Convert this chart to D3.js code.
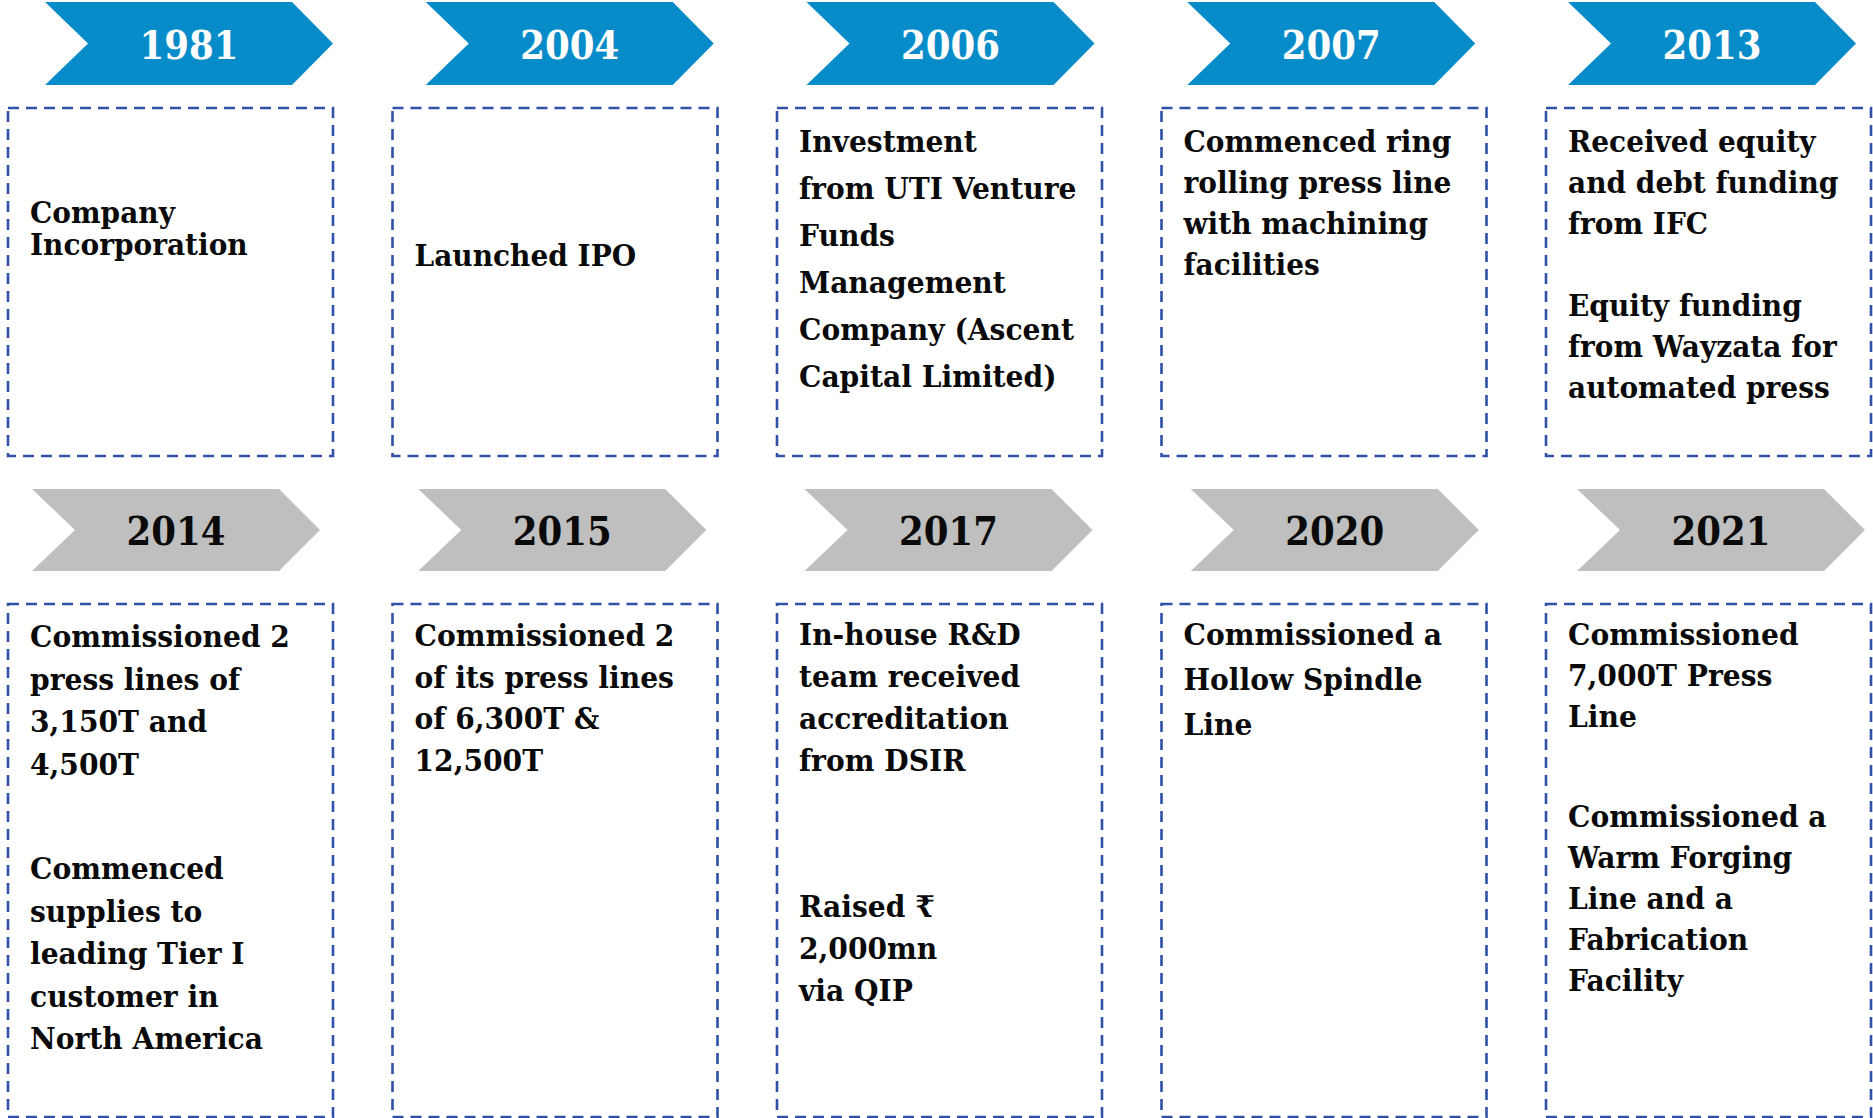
<!DOCTYPE html>
<html>
<head>
<meta charset="utf-8">
<script src="https://cdn.jsdelivr.net/npm/d3@7"></script>
<style>
  body { margin: 0; background: #fff; }
  svg { display: block; }
</style>
</head>
<body>
<div class="container"></div>
<script>
// milestones, top row (blue) and bottom row (grey)
var topYears = ["1981", "2004", "2006", "2007", "2013"];
var topEvents = [
  ["Company", "Incorporation"],
  ["Launched IPO"],
  ["Investment", "from UTI Venture", "Funds", "Management", "Company (Ascent", "Capital Limited)"],
  ["Commenced ring", "rolling press line", "with machining", "facilities"],
  ["Received equity", "and debt funding", "from IFC", "", "Equity funding", "from Wayzata for", "automated press"]
];
var bottomYears = ["2014", "2015", "2017", "2020", "2021"];
var bottomEvents = [
  ["Commissioned 2", "press lines of", "3,150T and", "4,500T", "", "Commenced", "supplies to", "leading Tier I", "customer in", "North America"],
  ["Commissioned 2", "of its press lines", "of 6,300T &", "12,500T"],
  ["In-house R&D", "team received", "accreditation", "from DSIR", "", "Raised ₹", "2,000mn", "via QIP"],
  ["Commissioned a", "Hollow Spindle", "Line"],
  ["Commissioned", "7,000T Press", "Line", "", "Commissioned a", "Warm Forging", "Line and a", "Fabrication", "Facility"]
];

const WIDTH = 1873;
const HEIGHT = 1118;
const FONT = "'DejaVu Serif', 'Noto Sans', serif";
const BLUE = "#078bc9";
const GREY = "#bfbfbf";
const DASH = "#2f52a6";

// text block layout per box (offsets from box top)
var topLayout = [
  {y0: 115, lh: 32, gap: 0, narrow: true},
  {y0: 158, lh: 0, gap: 0, narrow: true},
  {y0: 44, lh: 47, gap: 0, narrow: false},
  {y0: 44, lh: 41, gap: 0, narrow: true},
  {y0: 44, lh: 41, gap: 41, narrow: true}
];
var bottomLayout = [
  {y0: 43, lh: 42.5, gap: 62, narrow: false},
  {y0: 42, lh: 41.7, gap: 0, narrow: false},
  {y0: 41, lh: 42, gap: 104, narrow: false},
  {y0: 41, lh: 45, gap: 0, narrow: false},
  {y0: 41, lh: 41, gap: 59, narrow: false}
];

var svg = d3.select('.container').append('svg')
  .attr('width', WIDTH)
  .attr('height', HEIGHT);

// measure a probe string so the serif face can be squeezed to the reference widths
var measure = function(str, size){
  var t = svg.append('text')
    .attr('font-family', FONT).attr('font-weight', 'bold')
    .attr('font-size', size).text(str);
  var w = t.node().getComputedTextLength();
  t.remove();
  return w;
};
var BODY_SIZE = 30;
var YEAR_SIZE = 40;
var sxNormal = 260 / measure("Commissioned 2", BODY_SIZE);
var sxNarrow = 268 / measure("Commenced ring", BODY_SIZE);
var sxYear = 99 / measure("2014", YEAR_SIZE);

var idx = d3.range(5);
var xTopChev = d3.scaleLinear().domain([0, 4]).range([45, 1568]);
var xBotChev = d3.scaleLinear().domain([0, 4]).range([32, 1577]);
var xBox = d3.scaleLinear().domain([0, 4]).range([8, 1546]);
const CHEV_W = 288, TIP = 41, NOTCH = 43;
const BOX_W = 325;

var chevron = function(x0, y0, h){
  return d3.line()([
    [x0, y0], [x0 + CHEV_W - TIP, y0], [x0 + CHEV_W, y0 + h / 2],
    [x0 + CHEV_W - TIP, y0 + h], [x0, y0 + h], [x0 + NOTCH, y0 + h / 2]
  ]) + "Z";
};

var drawRow = function(years, events, layout, xChev, chevTop, chevH, fill, textFill, boxTop, boxH){
  var chev = svg.append('g').selectAll('g').data(idx).enter().append('g');

  chev.append('path')
    .attr('d', function(i){ return chevron(xChev(i), chevTop, chevH); })
    .attr('fill', fill);

  chev.append('text')
    .attr('transform', function(i){
      return "translate(" + (xChev(i) + CHEV_W / 2) + "," + (chevTop + chevH / 2 + 15) + ") scale(" + sxYear + ",1)";
    })
    .attr('text-anchor', 'middle')
    .attr('font-family', FONT)
    .attr('font-weight', 'bold')
    .attr('font-size', YEAR_SIZE)
    .attr('fill', textFill)
    .text(function(i){ return years[i]; });

  var box = svg.append('g').selectAll('g').data(idx).enter().append('g')
    .attr('transform', function(i){ return "translate(" + xBox(i) + "," + boxTop + ")"; });

  box.append('rect')
    .attr('x', 0).attr('y', 0)
    .attr('width', BOX_W).attr('height', boxH)
    .attr('fill', 'none')
    .attr('stroke', DASH)
    .attr('stroke-width', 2.6)
    .attr('stroke-dasharray', '11 7');

  box.each(function(i){
    var L = layout[i];
    var sx = L.narrow ? sxNarrow : sxNormal;
    var y = L.y0;
    var g = d3.select(this);
    events[i].forEach(function(line){
      if(line === ""){ y += L.gap; return; }
      g.append('text')
        .attr('transform', "translate(22," + y + ") scale(" + sx + ",1)")
        .attr('font-family', FONT)
        .attr('font-weight', 'bold')
        .attr('font-size', BODY_SIZE)
        .attr('fill', '#0a0a0a')
        .text(line);
      y += L.lh;
    });
  });
};

drawRow(topYears, topEvents, topLayout, xTopChev, 2, 83, BLUE, '#fff', 108, 348);
drawRow(bottomYears, bottomEvents, bottomLayout, xBotChev, 489, 82, GREY, '#0a0a0a', 604, 513);
</script>
</body>
</html>
